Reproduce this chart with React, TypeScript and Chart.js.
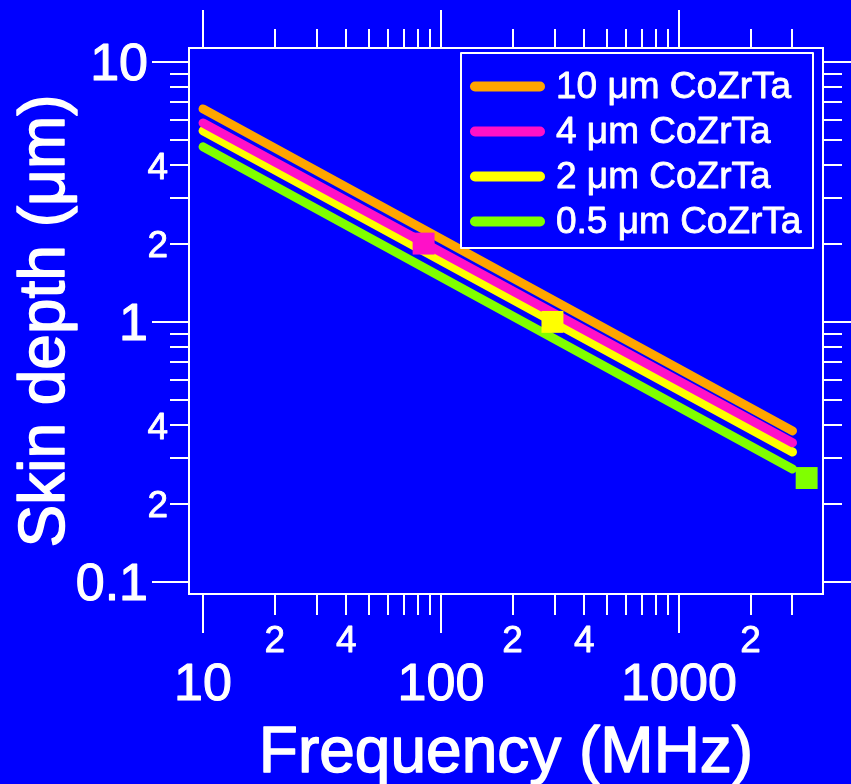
import { useEffect, useRef } from 'react';
import { Chart, registerables } from 'chart.js';

Chart.register(...registerables);

// ---------- data ----------
const freqEnds = [10, 3000]; // MHz
const depth10um = [6.59, 0.381];
const depth4um = [5.82, 0.343];
const depth2um = [5.43, 0.316];
const depth05um = [4.71, 0.272];

const markerFreq = [84.5, 294, 3440];
const markerDepth = [2.0, 1.0, 0.251];

const seriesLabels = ['10 \u03bcm CoZrTa', '4 \u03bcm CoZrTa', '2 \u03bcm CoZrTa', '0.5 \u03bcm CoZrTa'];
const seriesColors = ['#FFA500', '#FF10C8', '#FFFF00', '#80FF00'];
const markerColors = ['#FF10C8', '#FFFF00', '#80FF00'];

// ticks
const xTickValues = [10, 20, 30, 40, 50, 60, 70, 80, 90, 100, 200, 300, 400, 500, 600, 700, 800, 900, 1000, 2000, 3000];
const xMajorValues = [10, 100, 1000];
const xMajorTexts = ['10', '100', '1000'];
const xMinorLabelValues = [20, 40, 200, 400, 2000];
const xMinorLabelTexts = ['2', '4', '2', '4', '2'];

const yTickValues = [0.1, 0.2, 0.3, 0.4, 0.5, 0.6, 0.7, 0.8, 0.9, 1, 2, 3, 4, 5, 6, 7, 8, 9, 10];
const yMajorValues = [0.1, 1, 10];
const yMajorTexts = ['0.1', '1', '10'];
const yMinorLabelValues = [0.2, 0.4, 2, 4];
const yMinorLabelTexts = ['2', '4', '2', '4'];

const xTitle = 'Frequency (MHz)';
const yTitle = 'Skin depth (\u03bcm)';

// ---------- styles ----------
const BG = '#0000FF';
const FG = '#FFFFFF';
const FONT = '"Liberation Sans", Arial, Helvetica, sans-serif';

function heavyText(ctx: CanvasRenderingContext2D, text: string, x: number, y: number, size: number) {
  ctx.font = `${size}px ${FONT}`;
  ctx.fillStyle = FG;
  ctx.strokeStyle = FG;
  ctx.lineJoin = 'round';
  ctx.lineWidth = Math.max(0.8, size * 0.022);
  ctx.fillText(text, x, y);
  ctx.strokeText(text, x, y);
}

const igorPlugin = {
  id: 'igorAxes',
  beforeDraw(chart: any) {
    const { ctx, width, height } = chart;
    ctx.save();
    ctx.fillStyle = BG;
    ctx.fillRect(0, 0, width, height);
    ctx.restore();
  },
  afterDatasetsDraw(chart: any) {
    const { ctx, chartArea } = chart;
    const { left, right, top, bottom } = chartArea;
    const xs = chart.scales.x;
    const ys = chart.scales.y;
    ctx.save();
    ctx.strokeStyle = FG;
    ctx.fillStyle = FG;
    ctx.lineWidth = 2;
    ctx.lineCap = 'butt';

    // frame
    ctx.strokeRect(left, top, right - left, bottom - top);

    // x ticks (bottom + top)
    xTickValues.forEach((v) => {
      const px = Math.round(xs.getPixelForValue(v));
      const major = xMajorValues.includes(v);
      const lb = major ? 39 : 21;
      const lt = major ? 38 : 19;
      ctx.beginPath();
      ctx.moveTo(px, bottom);
      ctx.lineTo(px, bottom + lb);
      ctx.moveTo(px, top);
      ctx.lineTo(px, top - lt);
      ctx.stroke();
    });
    // y ticks (left + right)
    yTickValues.forEach((v) => {
      const py = Math.round(ys.getPixelForValue(v));
      const major = yMajorValues.includes(v);
      const l = major ? 37 : 19;
      ctx.beginPath();
      ctx.moveTo(left - l, py);
      ctx.lineTo(left, py);
      ctx.moveTo(right, py);
      ctx.lineTo(right + l, py);
      ctx.stroke();
    });

    // x labels
    ctx.textAlign = 'center';
    ctx.textBaseline = 'alphabetic';
    xMinorLabelValues.forEach((v, i) => {
      heavyText(ctx, xMinorLabelTexts[i], xs.getPixelForValue(v), 652, 37);
    });
    xMajorValues.forEach((v, i) => {
      heavyText(ctx, xMajorTexts[i], xs.getPixelForValue(v), 700, 52);
    });

    // y labels
    ctx.textAlign = 'right';
    yMinorLabelValues.forEach((v, i) => {
      heavyText(ctx, yMinorLabelTexts[i], 168, ys.getPixelForValue(v) + 13.5, 37);
    });
    yMajorValues.forEach((v, i) => {
      heavyText(ctx, yMajorTexts[i], 148, ys.getPixelForValue(v) + 18.5, 52);
    });

    // titles
    ctx.textAlign = 'center';
    heavyText(ctx, xTitle, (left + right) / 2, 772, 64);
    ctx.save();
    ctx.translate(64, (top + bottom) / 2);
    ctx.rotate(-Math.PI / 2);
    heavyText(ctx, yTitle, 0, 0, 64);
    ctx.restore();

    // legend
    const lx = 461, ly = 53, lw = 352, lh = 195;
    ctx.fillStyle = BG;
    ctx.fillRect(lx, ly, lw, lh);
    ctx.strokeStyle = FG;
    ctx.lineWidth = 2;
    ctx.strokeRect(lx, ly, lw, lh);
    ctx.textAlign = 'left';
    seriesLabels.forEach((lab, i) => {
      const cy = 86.5 + i * 45;
      ctx.strokeStyle = seriesColors[i];
      ctx.lineWidth = 10;
      ctx.lineCap = 'round';
      ctx.beginPath();
      ctx.moveTo(475, cy);
      ctx.lineTo(540, cy);
      ctx.stroke();
      heavyText(ctx, lab, 556, cy + 11, 37);
    });
    ctx.restore();
  },
};

export default function App() {
  const ref = useRef<HTMLCanvasElement>(null);
  useEffect(() => {
    document.body.style.margin = '0';
    document.body.style.background = BG;
    const lineSeries = [depth10um, depth4um, depth2um, depth05um];
    const lineDatasets = lineSeries.map((arr, i) => ({
      label: seriesLabels[i],
      data: freqEnds.map((f, j) => ({ x: f, y: arr[j] })),
      borderColor: seriesColors[i],
      backgroundColor: seriesColors[i],
      borderWidth: 9,
      borderCapStyle: 'round' as const,
      pointRadius: 0,
      fill: false,
      tension: 0,
      order: 2 + i,
    }));
    const markerDatasets = markerFreq.map((f, i) => ({
      label: 'marker' + i,
      data: [{ x: f, y: markerDepth[i] }],
      showLine: false,
      pointStyle: 'rect' as const,
      pointRadius: 15.5,
      pointBackgroundColor: markerColors[i],
      pointBorderWidth: 0,
      borderWidth: 0,
      order: 0,
    }));
    const chart = new Chart(ref.current as HTMLCanvasElement, {
      type: 'line',
      data: { datasets: [...markerDatasets, ...lineDatasets] as any },
      options: {
        responsive: false,
        animation: false,
        devicePixelRatio: 1,
        events: [],
        layout: { padding: { left: 189, top: 48, right: 28, bottom: 190 } },
        scales: {
          x: { type: 'logarithmic', min: 8.73, max: 4030, display: false },
          y: { type: 'logarithmic', min: 0.0899, max: 11.3, display: false },
        },
        plugins: { legend: { display: false }, tooltip: { enabled: false } },
      },
      plugins: [igorPlugin],
    });
    return () => chart.destroy();
  }, []);
  return (
    <canvas
      ref={ref}
      width={851}
      height={784}
      style={{ display: 'block', width: 851, height: 784 }}
    />
  );
}
